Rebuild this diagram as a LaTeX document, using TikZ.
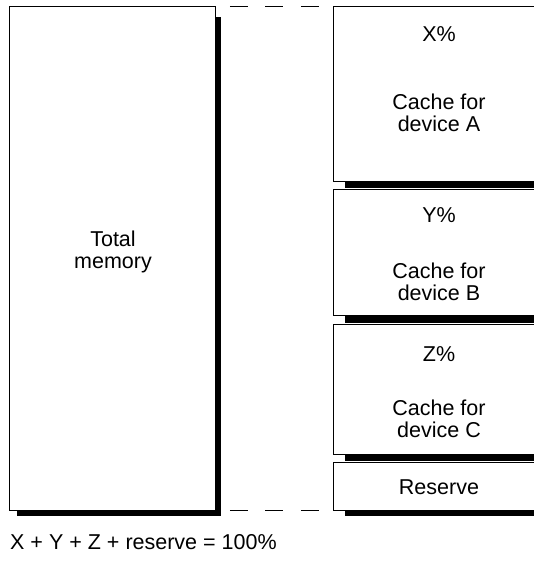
\documentclass[tikz,border=0pt]{standalone}
\usepackage{fontspec}
\setmainfont{Liberation Sans}
\begin{document}
\begin{tikzpicture}[x=1pt,y=-1pt,
  membox/.style={draw=black,fill=white,line width=0.9pt,inner sep=0pt,anchor=north west},
  shadowbox/.style={fill=black,draw=none,inner sep=0pt,anchor=north west},
  lbl/.style={font=\fontsize{21.5}{22.5}\selectfont,align=center,inner sep=0pt},
  guide/.style={line width=0.9pt,dash pattern=on 18pt off 17.5pt}]
\useasboundingbox (0,0) rectangle (534,562);
\clip (0,0) rectangle (534,562);
% left box
\node[shadowbox,minimum width=204pt,minimum height=499pt] (Ls) at (17,17) {};
\node[membox,minimum width=206pt,minimum height=504pt] (L) at (9,6) {};
% right boxes
\node[shadowbox,minimum width=212pt,minimum height=175pt] (As) at (345,13) {};
\node[membox,minimum width=212pt,minimum height=175pt] (A) at (333,6) {};
\node[shadowbox,minimum width=212pt,minimum height=126pt] (Bs) at (345,197) {};
\node[membox,minimum width=212pt,minimum height=126pt] (B) at (333,189) {};
\node[shadowbox,minimum width=212pt,minimum height=130pt] (Cs) at (345,331) {};
\node[membox,minimum width=212pt,minimum height=130pt] (C) at (333,324) {};
\node[shadowbox,minimum width=212pt,minimum height=48pt] (Rs) at (345,468) {};
\node[membox,minimum width=212pt,minimum height=48pt] (R) at (333,462) {};
% dashed guides
\draw[guide,shorten <=14pt,shorten >=10pt] (L.north east) -- (A.north west);
\draw[guide,shorten <=14pt,shorten >=10pt] (L.south east) -- (R.south west);
% labels
\node[lbl] (tm) at (113,252) {Total\\memory};
\node[lbl] (xp) at (439,34) {X\%};
\node[lbl] (ca) at (439,113) {Cache for\\device A};
\node[lbl] (yp) at (439,215) {Y\%};
\node[lbl] (cb) at (439,282) {Cache for\\device B};
\node[lbl] (zp) at (439,354) {Z\%};
\node[lbl] (cc) at (439,419) {Cache for\\device C};
\node[lbl] (rv) at (439,487) {Reserve};
\node[lbl,anchor=west] (eq) at (10,542) {X + Y + Z + reserve = 100\%};
\end{tikzpicture}
\end{document}
